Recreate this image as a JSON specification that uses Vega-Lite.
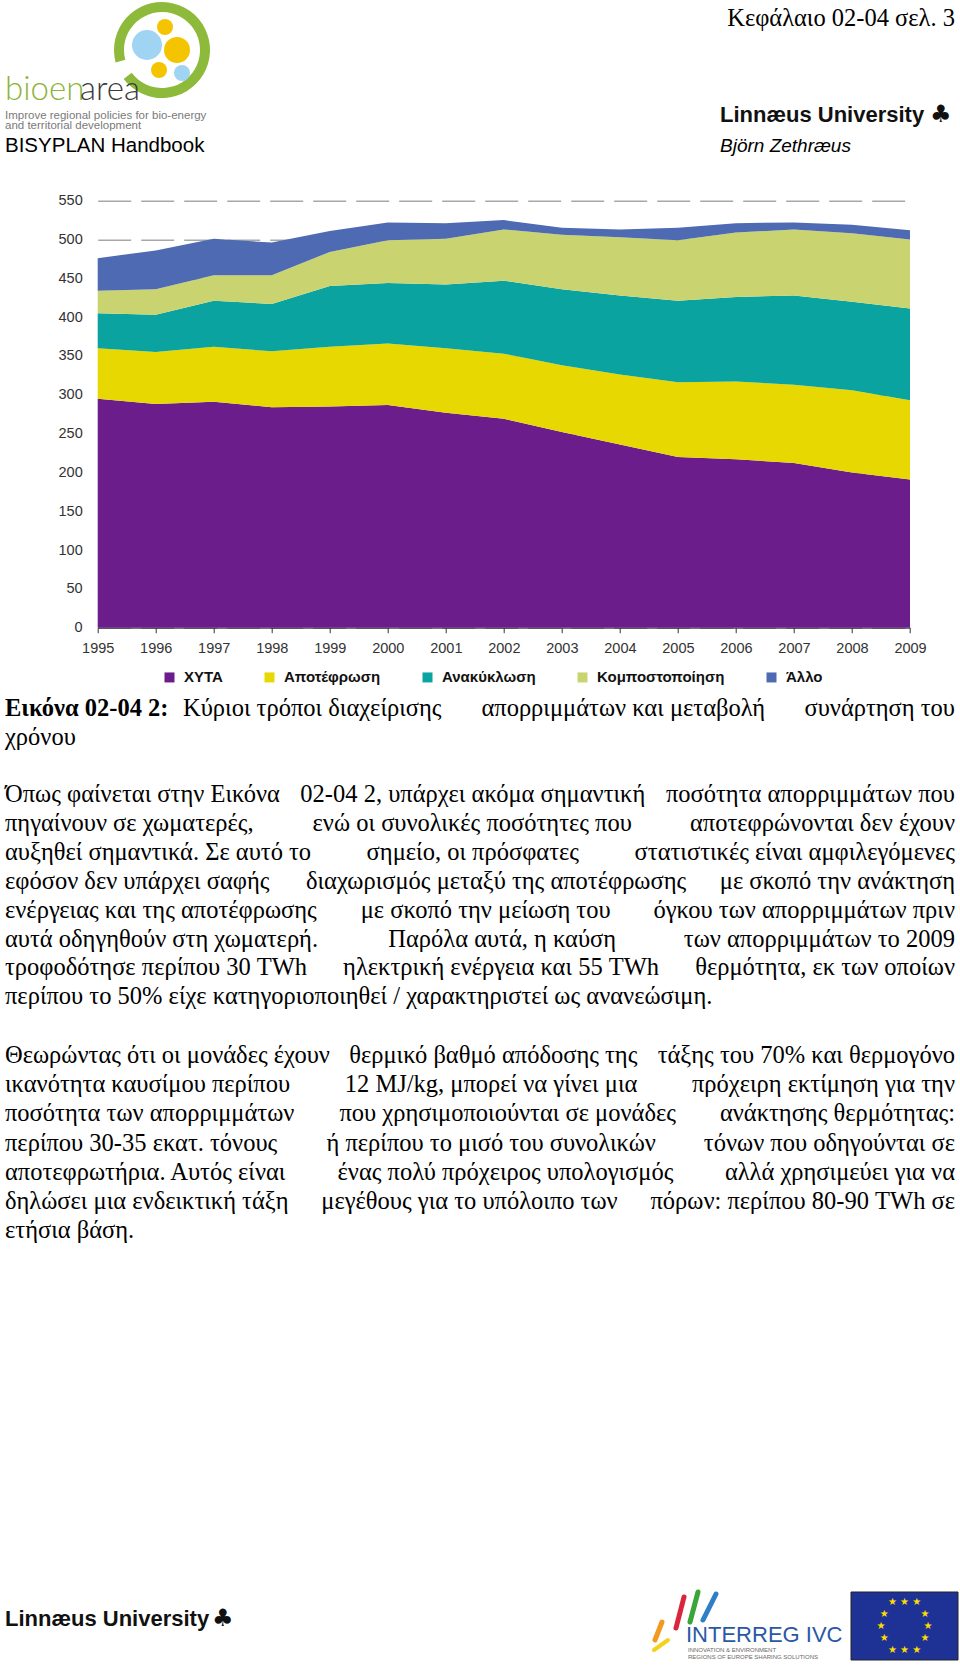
{
  "$schema": "https://vega.github.io/schema/vega-lite/v6.json",
  "autosize": {"type": "none"},
  "padding": {"left": 97.7, "top": 200.7, "right": 50, "bottom": 1041.3},
  "width": 812.3,
  "height": 427,
  "background": "white",
  "config": {"view": {"stroke": null}, "text": {"font": "Liberation Serif", "fontSize": 24.5, "baseline": "alphabetic", "color": "#000000"}},
  "layer": [
    {
      "data": {"values": [
        {"year": 1995, "type": "ΧΥΤΑ", "value": 295}, {"year": 1995, "type": "Αποτέφρωση", "value": 65}, {"year": 1995, "type": "Ανακύκλωση", "value": 45}, {"year": 1995, "type": "Κομποστοποίηση", "value": 29}, {"year": 1995, "type": "Άλλο", "value": 42},
        {"year": 1996, "type": "ΧΥΤΑ", "value": 288}, {"year": 1996, "type": "Αποτέφρωση", "value": 67}, {"year": 1996, "type": "Ανακύκλωση", "value": 48}, {"year": 1996, "type": "Κομποστοποίηση", "value": 33}, {"year": 1996, "type": "Άλλο", "value": 50},
        {"year": 1997, "type": "ΧΥΤΑ", "value": 291}, {"year": 1997, "type": "Αποτέφρωση", "value": 71}, {"year": 1997, "type": "Ανακύκλωση", "value": 59}, {"year": 1997, "type": "Κομποστοποίηση", "value": 33}, {"year": 1997, "type": "Άλλο", "value": 47},
        {"year": 1998, "type": "ΧΥΤΑ", "value": 284}, {"year": 1998, "type": "Αποτέφρωση", "value": 72}, {"year": 1998, "type": "Ανακύκλωση", "value": 61}, {"year": 1998, "type": "Κομποστοποίηση", "value": 37}, {"year": 1998, "type": "Άλλο", "value": 42},
        {"year": 1999, "type": "ΧΥΤΑ", "value": 285}, {"year": 1999, "type": "Αποτέφρωση", "value": 77}, {"year": 1999, "type": "Ανακύκλωση", "value": 78}, {"year": 1999, "type": "Κομποστοποίηση", "value": 44}, {"year": 1999, "type": "Άλλο", "value": 27},
        {"year": 2000, "type": "ΧΥΤΑ", "value": 287}, {"year": 2000, "type": "Αποτέφρωση", "value": 79}, {"year": 2000, "type": "Ανακύκλωση", "value": 78}, {"year": 2000, "type": "Κομποστοποίηση", "value": 55}, {"year": 2000, "type": "Άλλο", "value": 23},
        {"year": 2001, "type": "ΧΥΤΑ", "value": 277}, {"year": 2001, "type": "Αποτέφρωση", "value": 83}, {"year": 2001, "type": "Ανακύκλωση", "value": 82}, {"year": 2001, "type": "Κομποστοποίηση", "value": 59}, {"year": 2001, "type": "Άλλο", "value": 20},
        {"year": 2002, "type": "ΧΥΤΑ", "value": 269}, {"year": 2002, "type": "Αποτέφρωση", "value": 84}, {"year": 2002, "type": "Ανακύκλωση", "value": 94}, {"year": 2002, "type": "Κομποστοποίηση", "value": 66}, {"year": 2002, "type": "Άλλο", "value": 12},
        {"year": 2003, "type": "ΧΥΤΑ", "value": 252}, {"year": 2003, "type": "Αποτέφρωση", "value": 86}, {"year": 2003, "type": "Ανακύκλωση", "value": 98}, {"year": 2003, "type": "Κομποστοποίηση", "value": 70}, {"year": 2003, "type": "Άλλο", "value": 9},
        {"year": 2004, "type": "ΧΥΤΑ", "value": 236}, {"year": 2004, "type": "Αποτέφρωση", "value": 90}, {"year": 2004, "type": "Ανακύκλωση", "value": 102}, {"year": 2004, "type": "Κομποστοποίηση", "value": 75}, {"year": 2004, "type": "Άλλο", "value": 10},
        {"year": 2005, "type": "ΧΥΤΑ", "value": 220}, {"year": 2005, "type": "Αποτέφρωση", "value": 96}, {"year": 2005, "type": "Ανακύκλωση", "value": 105}, {"year": 2005, "type": "Κομποστοποίηση", "value": 78}, {"year": 2005, "type": "Άλλο", "value": 16},
        {"year": 2006, "type": "ΧΥΤΑ", "value": 217}, {"year": 2006, "type": "Αποτέφρωση", "value": 100}, {"year": 2006, "type": "Ανακύκλωση", "value": 109}, {"year": 2006, "type": "Κομποστοποίηση", "value": 83}, {"year": 2006, "type": "Άλλο", "value": 12},
        {"year": 2007, "type": "ΧΥΤΑ", "value": 212}, {"year": 2007, "type": "Αποτέφρωση", "value": 101}, {"year": 2007, "type": "Ανακύκλωση", "value": 115}, {"year": 2007, "type": "Κομποστοποίηση", "value": 85}, {"year": 2007, "type": "Άλλο", "value": 9},
        {"year": 2008, "type": "ΧΥΤΑ", "value": 200}, {"year": 2008, "type": "Αποτέφρωση", "value": 106}, {"year": 2008, "type": "Ανακύκλωση", "value": 114}, {"year": 2008, "type": "Κομποστοποίηση", "value": 88}, {"year": 2008, "type": "Άλλο", "value": 11},
        {"year": 2009, "type": "ΧΥΤΑ", "value": 191}, {"year": 2009, "type": "Αποτέφρωση", "value": 102}, {"year": 2009, "type": "Ανακύκλωση", "value": 118}, {"year": 2009, "type": "Κομποστοποίηση", "value": 89}, {"year": 2009, "type": "Άλλο", "value": 12}
      ]},
      "transform": [{"calculate": "indexof(['ΧΥΤΑ','Αποτέφρωση','Ανακύκλωση','Κομποστοποίηση','Άλλο'], datum.type)", "as": "ord"}],
      "mark": {"type": "area", "opacity": 1},
      "encoding": {
        "x": {"field": "year", "type": "quantitative",
          "scale": {"domain": [1995, 2009], "nice": false, "zero": false},
          "axis": {"title": null, "values": [1995,1996,1997,1998,1999,2000,2001,2002,2003,2004,2005,2006,2007,2008,2009], "format": "d", "grid": false, "labelFlush": false, "domainColor": "#333333", "tickColor": "#333333", "tickSize": 5, "labelPadding": 9, "labelFont": "Liberation Sans", "labelFontSize": 14.5, "labelColor": "#333333"}},
        "y": {"field": "value", "type": "quantitative", "stack": "zero",
          "scale": {"domain": [0, 550], "nice": false},
          "axis": {"title": null, "values": [0,50,100,150,200,250,300,350,400,450,500,550], "domain": false, "ticks": false, "tickSize": 0, "labelPadding": 15.5, "labelFont": "Liberation Sans", "labelFontSize": 14.5, "labelColor": "#333333", "grid": true, "gridDash": [33, 10], "gridColor": "#a8a8a8", "gridWidth": 1.5}},
        "order": {"field": "ord", "type": "quantitative", "sort": "ascending"},
        "color": {"field": "type", "type": "nominal",
          "sort": ["ΧΥΤΑ", "Αποτέφρωση", "Ανακύκλωση", "Κομποστοποίηση", "Άλλο"],
          "scale": {"domain": ["ΧΥΤΑ", "Αποτέφρωση", "Ανακύκλωση", "Κομποστοποίηση", "Άλλο"], "range": ["#6b1d8b", "#e6d800", "#0aa39f", "#c9d470", "#4d6ab2"]},
          "legend": {"title": null, "orient": "none", "legendX": 64.3, "legendY": 469, "direction": "horizontal", "columns": 5, "columnPadding": 39, "symbolType": "square", "symbolSize": 100, "symbolStrokeWidth": 0, "symbolOpacity": 1, "labelOffset": 7, "labelFont": "Liberation Sans", "labelFontWeight": "bold", "labelFontSize": 15, "labelColor": "#111111"}}
      }
    },
    {"data": {"values": [{}]}, "mark": {"type": "text", "text": "Κεφάλαιο 02-04 σελ. 3", "align": "right"}, "encoding": {"x": {"value": 857.3}, "y": {"value": -174.7}}},
    {
      "data": {"values": [{}]},
      "mark": {"type": "arc", "radius": 48, "radius2": 38, "theta": 4.45, "theta2": 10.35, "color": "#8dba3a"},
      "encoding": {"x": {"value": 64.3}, "y": {"value": -150.7}}
    },
    {"data": {"values": [{}]}, "mark": {"type": "point", "shape": "circle", "filled": true, "opacity": 1, "size": 900, "color": "#9fd4f2"}, "encoding": {"x": {"value": 49.3}, "y": {"value": -155.7}}},
    {"data": {"values": [{}]}, "mark": {"type": "point", "shape": "circle", "filled": true, "opacity": 1, "size": 256, "color": "#f5c400"}, "encoding": {"x": {"value": 67.3}, "y": {"value": -173.7}}},
    {"data": {"values": [{}]}, "mark": {"type": "point", "shape": "circle", "filled": true, "opacity": 1, "size": 676, "color": "#f5c400"}, "encoding": {"x": {"value": 79.3}, "y": {"value": -150.7}}},
    {"data": {"values": [{}]}, "mark": {"type": "point", "shape": "circle", "filled": true, "opacity": 1, "size": 256, "color": "#f5c400"}, "encoding": {"x": {"value": 61.3}, "y": {"value": -130.7}}},
    {"data": {"values": [{}]}, "mark": {"type": "point", "shape": "circle", "filled": true, "opacity": 1, "size": 256, "color": "#9fd4f2"}, "encoding": {"x": {"value": 84.3}, "y": {"value": -127.7}}},
    {"data": {"values": [{}]}, "mark": {"type": "text", "text": "bioen", "align": "left", "font": "Lato", "fontWeight": 300, "fontSize": 33, "color": "#8db33a"}, "encoding": {"x": {"value": -92.7}, "y": {"value": -100.7}}},
    {"data": {"values": [{}]}, "mark": {"type": "text", "text": "area", "align": "left", "font": "Lato", "fontWeight": 300, "fontSize": 33, "color": "#3a3a3a"}, "encoding": {"x": {"value": -17.7}, "y": {"value": -100.7}}},
    {"data": {"values": [{}]}, "mark": {"type": "text", "text": ["Improve regional policies for bio-energy", "and territorial development"], "lineHeight": 10.5, "align": "left", "font": "Liberation Sans", "fontSize": 11.5, "color": "#7a7a7a"}, "encoding": {"x": {"value": -92.7}, "y": {"value": -82}}},
    {"data": {"values": [{}]}, "mark": {"type": "text", "text": "BISYPLAN Handbook", "align": "left", "font": "Liberation Sans", "fontSize": 20.5}, "encoding": {"x": {"value": -92.7}, "y": {"value": -48.7}}},
    {"data": {"values": [{}]}, "mark": {"type": "text", "text": "Linnæus University", "align": "left", "font": "Liberation Sans", "fontWeight": "bold", "fontSize": 22, "color": "#111111"}, "encoding": {"x": {"value": 622.3}, "y": {"value": -78.7}}},
    {"data": {"values": [{}]}, "mark": {"type": "text", "text": "♣", "align": "center", "font": "DejaVu Sans", "fontSize": 24, "color": "#111111"}, "encoding": {"x": {"value": 843}, "y": {"value": -78.7}}},
    {"data": {"values": [{}]}, "mark": {"type": "text", "text": "Björn Zethræus", "align": "left", "font": "Liberation Sans", "fontStyle": "italic", "fontSize": 19}, "encoding": {"x": {"value": 622.3}, "y": {"value": -48.7}}},
    {"data": {"values": [{}]}, "mark": {"type": "text", "text": "Εικόνα 02-04 2:", "align": "left", "fontWeight": "bold"}, "encoding": {"x": {"value": -92.7}, "y": {"value": 515.3}}},
    {"data": {"values": [{}]}, "mark": {"type": "text", "text": "Κύριοι τρόποι διαχείρισης", "align": "left"}, "encoding": {"x": {"value": 85.3}, "y": {"value": 515.3}}},
    {"data": {"values": [{}]}, "mark": {"type": "text", "text": "απορριμμάτων και μεταβολή", "align": "center"}, "encoding": {"x": {"value": 525.6}, "y": {"value": 515.3}}},
    {"data": {"values": [{}]}, "mark": {"type": "text", "text": "συνάρτηση του", "align": "right"}, "encoding": {"x": {"value": 857.3}, "y": {"value": 515.3}}},
    {"data": {"values": [{}]}, "mark": {"type": "text", "text": "χρόνου", "align": "left"}, "encoding": {"x": {"value": -92.7}, "y": {"value": 544}}},
    {
      "data": {"values": [{}]},
      "mark": {"type": "text", "text": [
        "Όπως φαίνεται στην Εικόνα",
        "πηγαίνουν σε χωματερές,",
        "αυξηθεί σημαντικά. Σε αυτό το",
        "εφόσον δεν υπάρχει σαφής",
        "ενέργειας και της αποτέφρωσης",
        "αυτά οδηγηθούν στη χωματερή.",
        "τροφοδότησε περίπου 30 TWh",
        "περίπου το 50% είχε κατηγοριοποιηθεί / χαρακτηριστεί ως ανανεώσιμη."
      ], "lineHeight": 28.9, "align": "left"},
      "encoding": {"x": {"value": -92.7}, "y": {"value": 601.3}}
    },
    {"data": {"values": [{}]}, "mark": {"type": "text", "text": "02-04 2, υπάρχει ακόμα σημαντική", "align": "center"}, "encoding": {"x": {"value": 375.1}, "y": {"value": 601.3}}},
    {"data": {"values": [{}]}, "mark": {"type": "text", "text": "ενώ οι συνολικές ποσότητες που", "align": "center"}, "encoding": {"x": {"value": 374.5}, "y": {"value": 630.2}}},
    {"data": {"values": [{}]}, "mark": {"type": "text", "text": "σημείο, οι πρόσφατες", "align": "center"}, "encoding": {"x": {"value": 375.1}, "y": {"value": 659.1}}},
    {"data": {"values": [{}]}, "mark": {"type": "text", "text": "διαχωρισμός μεταξύ της αποτέφρωσης", "align": "center"}, "encoding": {"x": {"value": 398.4}, "y": {"value": 688}}},
    {"data": {"values": [{}]}, "mark": {"type": "text", "text": "με σκοπό την μείωση του", "align": "center"}, "encoding": {"x": {"value": 387.9}, "y": {"value": 716.9}}},
    {"data": {"values": [{}]}, "mark": {"type": "text", "text": "Παρόλα αυτά, η καύση", "align": "center"}, "encoding": {"x": {"value": 404.5}, "y": {"value": 745.8}}},
    {"data": {"values": [{}]}, "mark": {"type": "text", "text": "ηλεκτρική ενέργεια και 55 TWh", "align": "center"}, "encoding": {"x": {"value": 403.4}, "y": {"value": 774.7}}},
    {
      "data": {"values": [{}]},
      "mark": {"type": "text", "text": [
        "ποσότητα απορριμμάτων που",
        "αποτεφρώνονται δεν έχουν",
        "στατιστικές είναι αμφιλεγόμενες",
        "με σκοπό την ανάκτηση",
        "όγκου των απορριμμάτων πριν",
        "των απορριμμάτων το 2009",
        "θερμότητα, εκ των οποίων"
      ], "lineHeight": 28.9, "align": "right"},
      "encoding": {"x": {"value": 857.3}, "y": {"value": 601.3}}
    },
    {
      "data": {"values": [{}]},
      "mark": {"type": "text", "text": [
        "Θεωρώντας ότι οι μονάδες έχουν",
        "ικανότητα καυσίμου περίπου",
        "ποσότητα των απορριμμάτων",
        "περίπου 30-35 εκατ. τόνους",
        "αποτεφρωτήρια. Αυτός είναι",
        "δηλώσει μια ενδεικτική τάξη",
        "ετήσια βάση."
      ], "lineHeight": 29.2, "align": "left"},
      "encoding": {"x": {"value": -92.7}, "y": {"value": 862.3}}
    },
    {"data": {"values": [{}]}, "mark": {"type": "text", "text": "θερμικό βαθμό απόδοσης της", "align": "center"}, "encoding": {"x": {"value": 395.6}, "y": {"value": 862.3}}},
    {"data": {"values": [{}]}, "mark": {"type": "text", "text": "12 MJ/kg, μπορεί να γίνει μια", "align": "center"}, "encoding": {"x": {"value": 393.4}, "y": {"value": 891.5}}},
    {"data": {"values": [{}]}, "mark": {"type": "text", "text": "που χρησιμοποιούνται σε μονάδες", "align": "center"}, "encoding": {"x": {"value": 410}, "y": {"value": 920.7}}},
    {"data": {"values": [{}]}, "mark": {"type": "text", "text": "ή περίπου το μισό του συνολικών", "align": "center"}, "encoding": {"x": {"value": 393.5}, "y": {"value": 949.9}}},
    {"data": {"values": [{}]}, "mark": {"type": "text", "text": "ένας πολύ πρόχειρος υπολογισμός", "align": "center"}, "encoding": {"x": {"value": 407.8}, "y": {"value": 979.1}}},
    {"data": {"values": [{}]}, "mark": {"type": "text", "text": "μεγέθους για το υπόλοιπο των", "align": "center"}, "encoding": {"x": {"value": 371.8}, "y": {"value": 1008.3}}},
    {
      "data": {"values": [{}]},
      "mark": {"type": "text", "text": [
        "τάξης του 70% και θερμογόνο",
        "πρόχειρη εκτίμηση για την",
        "ανάκτησης θερμότητας:",
        "τόνων που οδηγούνται σε",
        "αλλά χρησιμεύει για να",
        "πόρων: περίπου 80-90 TWh σε"
      ], "lineHeight": 29.2, "align": "right"},
      "encoding": {"x": {"value": 857.3}, "y": {"value": 862.3}}
    },
    {"data": {"values": [{}]}, "mark": {"type": "text", "text": "Linnæus University", "align": "left", "font": "Liberation Sans", "fontWeight": "bold", "fontSize": 22, "color": "#111111"}, "encoding": {"x": {"value": -92.7}, "y": {"value": 1425.3}}},
    {"data": {"values": [{}]}, "mark": {"type": "text", "text": "♣", "align": "center", "font": "DejaVu Sans", "fontSize": 24, "color": "#111111"}, "encoding": {"x": {"value": 125}, "y": {"value": 1425.3}}},
    {"data": {"values": [{}]}, "mark": {"type": "rule", "color": "#f29a1f", "strokeWidth": 5, "strokeCap": "round"}, "encoding": {"x": {"value": 557.3}, "y": {"value": 1439.3}, "x2": {"value": 564.3}, "y2": {"value": 1421.3}}},
    {"data": {"values": [{}]}, "mark": {"type": "rule", "color": "#d9263b", "strokeWidth": 5, "strokeCap": "round"}, "encoding": {"x": {"value": 578.3}, "y": {"value": 1427.3}, "x2": {"value": 586.3}, "y2": {"value": 1396.3}}},
    {"data": {"values": [{}]}, "mark": {"type": "rule", "color": "#3aa63a", "strokeWidth": 5, "strokeCap": "round"}, "encoding": {"x": {"value": 592.3}, "y": {"value": 1421.3}, "x2": {"value": 600.3}, "y2": {"value": 1391.3}}},
    {"data": {"values": [{}]}, "mark": {"type": "rule", "color": "#2f7fc8", "strokeWidth": 5, "strokeCap": "round"}, "encoding": {"x": {"value": 605.3}, "y": {"value": 1419.3}, "x2": {"value": 618.3}, "y2": {"value": 1393.3}}},
    {"data": {"values": [{}]}, "mark": {"type": "rule", "color": "#f5d21c", "strokeWidth": 4, "strokeCap": "round"}, "encoding": {"x": {"value": 556.3}, "y": {"value": 1449.3}, "x2": {"value": 570.3}, "y2": {"value": 1439.3}}},
    {"data": {"values": [{}]}, "mark": {"type": "text", "text": "INTERREG IVC", "align": "left", "font": "Liberation Sans", "fontSize": 22, "color": "#2b58a5"}, "encoding": {"x": {"value": 588.3}, "y": {"value": 1441.3}}},
    {"data": {"values": [{}]}, "mark": {"type": "text", "text": ["INNOVATION & ENVIRONMENT", "REGIONS OF EUROPE SHARING SOLUTIONS"], "lineHeight": 7, "align": "left", "font": "Liberation Sans", "fontSize": 6, "color": "#666666"}, "encoding": {"x": {"value": 590.3}, "y": {"value": 1451.3}}},
    {"data": {"values": [{}]}, "mark": {"type": "rect", "color": "#1e3296", "stroke": "#222222", "strokeWidth": 1}, "encoding": {"x": {"value": 753.3}, "x2": {"value": 860.3}, "y": {"value": 1391.3}, "y2": {"value": 1459.3}}},
    {
      "data": {"values": [{}]},
      "mark": {"type": "text", "text": ["★\u00a0★\u00a0★", "★\u00a0\u00a0\u00a0\u00a0\u00a0\u00a0\u00a0\u00a0\u00a0\u00a0★", "★\u00a0\u00a0\u00a0\u00a0\u00a0\u00a0\u00a0\u00a0\u00a0\u00a0\u00a0\u00a0★", "★\u00a0\u00a0\u00a0\u00a0\u00a0\u00a0\u00a0\u00a0\u00a0\u00a0★", "★\u00a0★\u00a0★"], "lineHeight": 12, "align": "center", "baseline": "middle", "font": "DejaVu Sans", "fontSize": 10, "color": "#ffdd00"},
      "encoding": {"x": {"value": 806.8}, "y": {"value": 1401.3}}
    }
  ]
}
